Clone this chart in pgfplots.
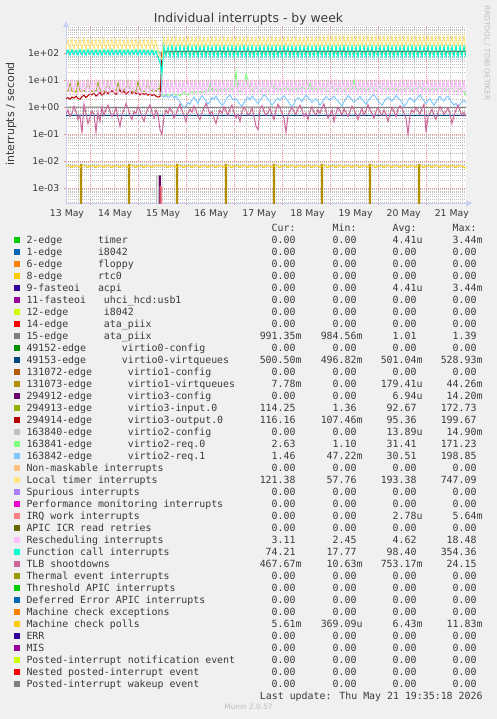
\documentclass[border=0pt]{standalone}
\usepackage{pgfplots}
\pgfplotsset{compat=1.18}
\usepackage{pgfplotstable}
\usetikzlibrary{arrows.meta}
\usepackage{fontspec}
\setmainfont{DejaVu Sans}
\newfontfamily\monofont{DejaVu Sans Mono}
\definecolor{bgc}{HTML}{F0F0F0}
\definecolor{txt}{HTML}{3A3A3A}
\definecolor{axc}{RGB}{200,208,245}
\definecolor{mgrid}{RGB}{238,140,140}
\definecolor{ngrid}{RGB}{190,190,190}
\definecolor{c1}{HTML}{00CC00}\definecolor{c2}{HTML}{0066B3}\definecolor{c3}{HTML}{FF8000}
\definecolor{c4}{HTML}{FFCC00}\definecolor{c5}{HTML}{330099}\definecolor{c6}{HTML}{990099}
\definecolor{c7}{HTML}{CCFF00}\definecolor{c8}{HTML}{FF0000}\definecolor{c9}{HTML}{808080}
\definecolor{c10}{HTML}{008F00}\definecolor{c11}{HTML}{00487D}\definecolor{c12}{HTML}{B35A00}
\definecolor{c13}{HTML}{B38F00}\definecolor{c14}{HTML}{6B006B}\definecolor{c15}{HTML}{8FB300}
\definecolor{c16}{HTML}{B30000}\definecolor{c17}{HTML}{BEBEBE}\definecolor{c18}{HTML}{80FF80}
\definecolor{c19}{HTML}{80C9FF}\definecolor{c20}{HTML}{FFC080}\definecolor{c21}{HTML}{FFE680}
\definecolor{c22}{HTML}{AA80FF}\definecolor{c23}{HTML}{EE00CC}\definecolor{c24}{HTML}{FF8080}
\definecolor{c25}{HTML}{666600}\definecolor{c26}{HTML}{FFBFFF}\definecolor{c27}{HTML}{00FFCC}
\definecolor{c28}{HTML}{CC6699}\definecolor{c29}{HTML}{999900}
\newcommand\legf{\monofont\fontsize{9.9}{12}\selectfont}
\newcommand\pz{\hphantom{0}}
\newcommand\Z{0.00\pz}
\newcommand\LR[5]{%
 \fill[#2] (14.2,{719-240-12*#1-2.7}) rectangle (19.5,{719-240-12*#1+2.7});
 \node[anchor=base west,inner sep=0pt,font=\legf,text=txt] at (26.3,{719-243.4-12*#1}) {#3};
 \node[anchor=base west,inner sep=0pt,font=\legf,text=txt] at ({26.3+5.96*#4},{719-243.4-12*#1}) {#5};}
\newcommand\LV[5]{%
 \node[anchor=base east,inner sep=0pt,font=\legf,text=txt] at (301.7,{719-243.4-12*#1}) {#2};
 \node[anchor=base east,inner sep=0pt,font=\legf,text=txt] at (362.7,{719-243.4-12*#1}) {#3};
 \node[anchor=base east,inner sep=0pt,font=\legf,text=txt] at (422.7,{719-243.4-12*#1}) {#4};
 \node[anchor=base east,inner sep=0pt,font=\legf,text=txt] at (482.7,{719-243.4-12*#1}) {#5};}
\begin{document}
\pgfplotstableread{
x lt fc rs tlb v3i v3o v2r0 v2r1 mcp
0 145 88 3.4 0.55 3.8 2.1 120 110 0.0068
2 320 130 9.2 0.8 4.2 2.3 125 112 0.0067
4 138 86 3.3 0.45 7.5 2.0 118 108 0.0068
6 350 135 9.8 0.6 3.9 2.4 130 115 0.0060
8 142 90 3.5 1.1 4.1 2.2 122 111 0.0068
10 310 128 8.9 0.7 3.6 2.6 127 109 0.0067
12 150 84 3.2 0.35 8.8 2.1 119 113 0.0068
14 335 138 9.5 0.5 4.0 2.0 124 110 0.0058
16 140 87 3.4 0.11 3.7 2.5 128 114 0.0068
18 360 132 9.1 1.3 4.3 2.8 121 108 0.0068
20 135 85 3.6 0.6 3.8 2.3 126 112 0.0067
22 325 140 9.6 0.25 9.5 2.7 123 111 0.0060
24 146 89 3.3 0.4 4.4 3.1 120 109 0.0068
26 315 129 9.0 0.75 3.9 2.9 129 115 0.0068
28 139 86 3.5 0.55 4.2 3.4 125 110 0.0067
30 345 134 9.7 0.12 4.0 2.6 122 113 0.0058
32 144 88 3.2 0.65 8.2 3.0 127 108 0.0068
34 330 131 9.3 0.3 4.5 3.6 124 112 0.0068
36 141 83 3.4 1.0 3.8 2.8 118 111 0.0067
38 355 137 9.9 0.5 4.1 3.3 126 114 0.0060
40 148 90 3.6 0.85 4.3 3.9 121 109 0.0068
42 312 133 9.2 1.2 9.0 3.2 128 110 0.0068
44 137 85 3.3 0.7 4.0 3.7 123 113 0.0067
46 340 139 9.5 0.45 3.7 4.1 125 112 0.0058
48 143 87 3.5 0.6 4.4 3.5 120 108 0.0068
50 328 130 9.0 0.95 4.2 3.0 127 111 0.0068
52 146 88 3.2 0.4 7.8 3.8 124 115 0.0067
54 352 136 9.6 0.2 4.0 4.3 122 110 0.0060
56 139 84 3.4 0.55 3.9 3.4 126 112 0.0068
58 318 132 9.4 0.8 4.5 3.9 121 109 0.0068
60 144 89 3.6 1.4 4.1 3.1 128 113 0.0067
62 338 135 9.1 0.9 9.3 3.6 125 111 0.0058
64 141 86 3.3 0.5 4.3 4.0 119 108 0.0068
66 322 131 9.8 0.35 3.8 3.3 127 114 0.0068
68 147 90 3.5 0.7 4.2 3.7 123 110 0.0067
70 348 138 9.3 0.6 4.0 3.2 126 112 0.0060
72 140 85 3.4 1.05 8.5 3.5 121 109 0.0068
74 316 133 9.5 0.75 4.4 2.9 128 113 0.0068
76 145 87 3.2 0.45 4.1 3.4 124 111 0.0067
78 342 136 9.7 0.3 3.9 3.0 122 110 0.0058
80 138 88 3.6 0.6 4.2 3.3 127 114 0.0068
82 326 130 9.2 0.9 9.1 2.8 125 108 0.0068
84 143 84 3.3 1.25 4.0 3.1 120 112 0.0067
86 336 134 9.4 0.65 4.3 2.7 126 110 0.0060
88 142 86 3.5 0.4 4.5 3.0 123 113 0.0068
90 300 120 9.0 0.8 3.9 2.6 124 111 0.0068
92 110 70 4.0 0.55 4.6 2.4 118 109 0.0067
94 75 45 3.3 0.15 5.0 2.5 115 108 0.0068
96 58 19 3.3 0.1 105 110 3.0 2.6 0.0068
98 380 185 9.4 0.45 112 118 2.8 2.4 0.0068
100 178 78 3.2 0.8 108 112 2.6 2.8 0.0067
102 395 175 9.6 0.6 118 121 3.1 2.3 0.0058
104 172 74 3.4 1.0 110 115 2.7 2.5 0.0068
106 405 190 9.2 0.7 115 119 2.9 2.9 0.0068
108 180 76 3.3 0.4 106 111 3.3 2.2 0.0067
110 388 178 9.7 0.55 120 124 2.8 2.6 0.0060
112 175 73 3.2 0.9 109 113 3.0 2.0 0.0068
114 400 186 9.5 1.3 116 120 2.6 1.6 0.0068
116 183 77 3.5 0.75 111 114 3.2 1.2 0.0067
118 392 180 9.3 0.5 119 122 3.5 1.0 0.0058
120 176 75 3.3 0.3 107 112 3.1 1.1 0.0068
122 410 188 9.8 0.6 117 121 2.9 1.5 0.0068
124 179 72 3.2 0.85 112 116 3.4 1.3 0.0067
126 385 176 9.4 0.65 121 125 3.8 1.9 0.0060
128 174 78 3.4 1.1 108 113 3.3 2.4 0.0068
130 398 184 9.6 0.8 115 119 3.6 1.8 0.0068
132 181 74 3.3 0.45 110 115 4.1 1.4 0.0067
134 402 179 9.1 0.35 118 122 3.7 2.1 0.0058
136 177 76 3.5 0.6 113 117 3.4 2.7 0.0068
138 390 187 9.7 0.95 120 123 3.9 2.2 0.0068
140 173 73 3.2 1.4 106 111 4.4 1.7 0.0067
142 408 182 9.5 0.9 116 120 4.0 1.3 0.0060
144 182 77 3.4 0.55 111 115 7.0 1.6 0.0068
146 387 177 9.3 0.7 119 123 4.2 2.3 0.0068
148 176 75 3.3 0.4 109 114 4.8 2.0 0.0067
150 401 189 9.8 0.25 117 121 4.3 2.6 0.0058
152 180 72 3.2 0.5 112 116 3.9 1.9 0.0068
154 394 181 9.4 0.8 121 124 4.5 1.5 0.0068
156 175 76 3.5 0.6 107 112 4.1 1.2 0.0067
158 406 185 9.6 1.05 115 119 4.6 1.4 0.0060
160 178 74 3.3 0.75 110 114 4.1 1.9 0.0068
162 389 178 9.2 0.5 118 122 4.7 2.5 0.0068
164 183 78 3.4 0.9 113 117 5.2 2.8 0.0067
166 399 186 9.7 1.2 120 124 4.4 2.2 0.0058
168 174 73 3.2 0.65 108 113 4.6 1.8 0.0068
170 404 183 9.5 0.4 116 120 21 2.1 0.0068
172 179 77 3.3 0.55 111 115 4.3 1.6 0.0067
174 391 179 9.3 0.3 119 123 3.9 1.3 0.0060
176 177 75 3.5 0.7 106 111 4.5 1.1 0.0068
178 403 188 9.8 1.0 117 121 5.0 1.5 0.0068
180 181 72 3.2 0.8 112 116 17 2.0 0.0067
182 386 180 9.4 0.5 121 125 10 2.4 0.0058
184 176 76 3.4 0.6 109 114 4.6 1.9 0.0068
186 400 184 9.6 0.95 115 119 4.2 2.6 0.0068
188 180 74 3.3 0.45 110 115 4.8 2.2 0.0067
190 393 177 9.1 0.2 118 122 5.3 1.7 0.0060
192 175 78 3.5 0.15 113 117 4.7 1.4 0.0068
194 407 187 9.7 0.85 120 123 4.1 1.8 0.0068
196 182 73 3.2 1.15 107 112 4.6 2.3 0.0067
198 388 181 9.5 0.7 116 120 5.1 2.9 0.0058
200 177 77 3.3 0.5 111 115 4.5 2.5 0.0068
202 397 185 9.3 0.65 119 123 4.0 2.0 0.0068
204 179 75 3.4 0.9 108 113 4.4 1.6 0.0067
206 405 179 9.8 0.55 117 121 8.0 1.2 0.0060
208 174 72 3.2 0.35 112 116 5.5 1.5 0.0068
210 390 186 9.4 0.8 121 124 4.8 1.9 0.0068
212 181 76 3.5 1.3 106 111 4.3 2.2 0.0067
214 402 182 9.6 0.95 115 119 4.7 1.8 0.0058
216 176 74 3.3 0.6 110 115 4.2 2.4 0.0068
218 395 188 9.2 0.4 118 122 4.9 2.7 0.0068
220 178 78 3.4 0.12 113 117 5.4 2.1 0.0067
222 409 180 9.7 0.5 120 124 4.6 1.7 0.0060
224 175 73 3.2 0.75 109 114 4.1 1.3 0.0068
226 387 184 9.5 1.0 116 120 4.5 1.0 0.0068
228 183 77 3.3 0.7 111 116 5.2 1.4 0.0067
230 399 178 9.3 0.55 119 123 4.8 1.9 0.0058
232 177 75 3.5 0.9 107 112 4.3 2.3 0.0068
234 404 187 9.8 1.2 117 121 4.9 2.0 0.0068
236 180 72 3.2 0.8 112 116 5.6 1.6 0.0067
238 392 181 9.4 0.45 121 125 5.0 2.2 0.0060
240 176 76 3.4 0.6 108 113 4.4 2.8 0.0068
242 401 185 9.6 0.35 115 119 4.8 2.4 0.0068
244 179 74 3.3 0.7 110 115 7.5 1.9 0.0067
246 389 179 9.1 1.05 118 122 4.6 1.5 0.0058
248 174 78 3.5 0.65 113 117 5.3 1.8 0.0068
250 406 186 9.7 0.5 120 123 4.7 2.1 0.0068
252 182 73 3.2 0.85 106 111 4.3 1.6 0.0067
254 440 183 9.5 0.6 116 120 4.9 1.2 0.0060
256 177 77 3.3 0.95 111 115 4.5 1.5 0.0068
258 455 180 9.3 1.35 119 123 5.1 2.0 0.0068
260 181 75 3.4 0.7 108 113 4.6 2.5 0.0067
262 448 188 9.8 0.4 117 121 4.0 2.2 0.0058
264 175 72 3.2 0.55 112 116 4.4 1.8 0.0068
266 462 182 9.4 0.8 121 124 5.5 2.3 0.0068
268 180 76 3.5 0.3 107 112 4.8 2.6 0.0067
270 445 186 9.6 0.6 115 119 4.2 2.0 0.0060
272 178 74 3.3 1.0 110 115 4.7 1.7 0.0068
274 458 179 9.2 0.75 118 122 5.2 1.4 0.0068
276 183 78 3.4 0.5 113 117 4.6 1.1 0.0067
278 450 187 9.7 0.9 120 124 4.1 1.6 0.0058
280 176 73 3.2 0.65 109 114 4.5 2.1 0.0068
282 465 181 9.5 0.45 116 120 5.0 2.7 0.0068
284 179 77 3.3 0.7 111 116 4.4 2.3 0.0067
286 443 185 9.3 1.1 119 123 4.9 1.9 0.0060
288 174 75 3.5 0.85 107 112 10 1.5 0.0068
290 452 180 9.8 0.55 117 121 4.7 1.8 0.0068
292 182 72 3.2 0.35 112 116 4.2 2.2 0.0067
294 460 188 9.4 0.6 121 125 4.6 2.5 0.0058
296 177 76 3.4 0.9 108 113 5.1 2.0 0.0068
298 447 183 9.6 0.5 115 119 4.5 1.6 0.0068
300 181 74 3.3 0.75 110 115 4.0 1.3 0.0067
302 463 179 9.1 1.25 118 122 4.4 1.7 0.0060
304 175 78 3.5 0.8 113 117 4.9 2.2 0.0068
306 449 186 9.7 0.6 120 123 5.3 2.6 0.0068
308 180 73 3.2 0.4 106 111 4.6 2.9 0.0067
310 457 182 9.5 0.7 116 120 4.1 2.3 0.0058
312 178 77 3.3 0.95 111 115 4.5 1.8 0.0068
314 444 185 9.3 0.65 119 123 6.5 1.4 0.0068
316 183 75 3.4 0.5 108 113 4.4 1.2 0.0067
318 461 180 9.8 0.8 117 121 4.8 1.6 0.0060
320 176 72 3.2 0.55 112 116 5.2 2.0 0.0068
322 451 187 9.4 0.3 121 124 4.6 2.4 0.0068
324 179 76 3.5 0.6 107 112 4.3 2.1 0.0067
326 446 181 9.6 1.0 115 119 4.7 1.7 0.0058
328 174 74 3.3 0.7 110 115 5.1 2.2 0.0068
330 459 184 9.2 0.45 118 122 4.5 2.7 0.0068
332 182 78 3.4 0.85 113 117 4.0 2.3 0.0067
334 454 179 9.7 1.15 120 123 4.4 1.9 0.0060
336 177 73 3.2 0.9 109 114 4.8 1.5 0.0068
338 464 186 9.5 0.6 116 120 4.3 1.1 0.0068
340 181 77 3.3 0.4 111 116 4.9 1.3 0.0067
342 442 182 9.3 0.1 119 123 5.3 1.8 0.0058
344 175 75 3.5 0.5 107 112 4.7 2.3 0.0068
346 456 188 9.8 0.8 117 121 4.2 2.0 0.0068
348 180 72 3.2 0.65 112 116 4.6 1.6 0.0067
350 448 180 9.4 1.0 121 125 5.0 1.9 0.0060
352 178 76 3.4 0.75 108 113 4.4 2.4 0.0068
354 462 185 9.6 0.55 115 119 7.0 2.8 0.0068
356 183 74 3.3 0.9 110 115 4.2 2.2 0.0067
358 445 179 9.1 1.3 118 122 4.7 1.7 0.0058
360 176 78 3.5 0.12 113 117 5.1 1.4 0.0068
362 458 187 9.7 0.45 120 123 4.5 1.8 0.0068
364 179 73 3.2 0.6 106 111 4.1 2.1 0.0067
366 450 183 9.5 0.85 116 120 4.6 1.5 0.0060
368 174 77 3.3 0.5 111 115 5.0 1.2 0.0068
370 466 180 9.3 0.35 119 123 4.4 1.6 0.0068
372 182 75 3.4 0.65 108 113 4.8 2.1 0.0067
374 447 188 9.8 1.05 117 121 5.2 2.5 0.0058
376 177 72 3.2 0.8 112 116 4.6 2.0 0.0068
378 455 182 9.4 0.55 121 124 4.2 1.7 0.0068
380 181 76 3.5 0.7 107 112 4.7 2.3 0.0067
382 460 186 9.6 0.95 115 119 4.3 2.6 0.0060
384 175 74 3.3 0.6 110 115 4.8 1.9 0.0068
386 443 179 9.2 0.25 118 122 5.1 1.5 0.0068
388 180 78 3.4 0.5 113 117 4.5 1.2 0.0067
390 457 187 9.7 0.8 120 123 4.0 1.4 0.0058
392 178 73 3.2 1.2 109 114 4.4 1.0 0.0068
394 463 183 9.5 0.75 116 120 4.7 1.3 0.0068
396 183 77 3.3 0.5 111 116 4.3 1.6 0.0067
398 449 180 9.3 0.65 119 123 3.8 1.8 0.0060
400 121 74 3.1 0.47 114 116 2.6 1.5 0.0056
}\data
\begin{tikzpicture}[x=1pt,y=1pt]
\fill[bgc] (0,0) rectangle (497,719);
\begin{axis}[
  at={(66pt,515.7pt)}, anchor=south west,
  width=400pt, height=177pt, scale only axis,
  xmin=0, xmax=400, ymode=log, ymin=2.8e-4, ymax=1000,
  axis background/.style={fill=white},
  axis lines=left,
  axis line style={draw=axc, line width=1pt},
  x axis line style={-{Triangle[length=6pt,width=6pt]}, shorten >=-6pt},
  y axis line style={-{Triangle[length=6pt,width=6pt]}, shorten >=-5pt},
  xtick={24.7,72.7,120.7,168.7,216.7,264.7,312.7,360.7},
  xticklabels={},
  minor xtick={0.7,12.7,36.7,48.7,60.7,84.7,96.7,108.7,132.7,144.7,156.7,180.7,192.7,204.7,228.7,240.7,252.7,276.7,288.7,300.7,324.7,336.7,348.7,372.7,384.7,396.7},
  extra x ticks={1,49.1,97.2,145.3,193.4,241.5,289.6,337.7,385.8},
  extra x tick labels={13 May,14 May,15 May,16 May,17 May,18 May,19 May,20 May,21 May},
  extra x tick style={grid=none, major tick length=0pt},
  ytick={1e-3,1e-2,1e-1,1,10,100},
  yticklabels={1e-03,1e-02,1e-01,1e+00,1e+01,1e+02},
  minor ytick={3e-4,4e-4,5e-4,6e-4,7e-4,8e-4,9e-4,2e-3,3e-3,4e-3,5e-3,6e-3,7e-3,8e-3,9e-3,0.02,0.03,0.04,0.05,0.06,0.07,0.08,0.09,0.2,0.3,0.4,0.5,0.6,0.7,0.8,0.9,2,3,4,5,6,7,8,9,20,30,40,50,60,70,80,90,200,300,400,500,600,700,800,900},
  grid=both,
  major grid style={draw=mgrid, line width=0.6pt, dash pattern=on 1pt off 1pt},
  minor grid style={draw=ngrid, line width=0.6pt, dash pattern=on 1pt off 1pt},
  tick align=outside,
  major tick length=2pt, minor tick length=0pt,
  major tick style={draw=mgrid, line width=0.8pt},
  tick label style={font=\fontsize{9.3}{10}\selectfont, text=txt},
  yticklabel style={inner sep=0pt, anchor=east},
  xticklabel style={inner sep=0pt, anchor=north},
  yticklabel shift=4.5pt,
  xticklabel shift=6pt,
  clip=true,
  every axis plot/.append style={line width=1pt, mark=none},
]
\addplot[c9] coordinates {(0,1.01)(100,1.00)(200,1.01)(300,1.00)(400,0.99)};
\addplot[c11] coordinates {(0,0.501)(100,0.50)(200,0.501)(300,0.502)(400,0.5005)};
\addplot[c13] coordinates {(14,1e-6)(14.5,0.0078)(15.5,0.0078)(16,1e-6)(62,1e-6)(62.5,0.0078)(63.5,0.0078)(64,1e-6)(110,1e-6)(110.5,0.0078)(111.5,0.0078)(112,1e-6)(159,1e-6)(159.5,0.0078)(160.5,0.0078)(161,1e-6)(207,1e-6)(207.5,0.0078)(208.5,0.0078)(209,1e-6)(255,1e-6)(255.5,0.0078)(256.5,0.0078)(257,1e-6)(303,1e-6)(303.5,0.0078)(304.5,0.0078)(305,1e-6)(352,1e-6)(352.5,0.0078)(353.5,0.0078)(354,1e-6)};
\addplot[c14] coordinates {(93.4,1e-6)(93.7,0.0029)(94.3,0.0029)(94.6,1e-6)};
\addplot[c15] table[x=x,y=v3i]{\data};
\addplot[c16] table[x=x,y=v3o]{\data};
\addplot[c17] coordinates {(90.4,1e-6)(90.7,0.0029)(92.3,0.0029)(92.6,1e-6)};
\addplot[c18] table[x=x,y=v2r0]{\data};
\addplot[c19] table[x=x,y=v2r1]{\data};
\addplot[c21] table[x=x,y=lt]{\data};
\addplot[c24] coordinates {(93.9,1e-6)(94.2,0.00115)(95.6,0.00115)(95.9,1e-6)};
\addplot[c26] table[x=x,y=rs]{\data};
\addplot[c27] table[x=x,y=fc]{\data};
\addplot[c28] table[x=x,y=tlb]{\data};
\addplot[c4] table[x=x,y=mcp]{\data};
\end{axis}
\node[font=\fontsize{12.4}{14}\selectfont, text=txt] at (248.5,699.5) {Individual interrupts - by week};
\node[font=\fontsize{11}{13}\selectfont, text=txt, rotate=90] at (11,605) {interrupts / second};
\node[font=\fontsize{7.4}{9}\selectfont, text=black!25, rotate=-90] at (487,666) {RRDTOOL / TOBI OETIKER};
\node[font=\fontsize{7.4}{9}\selectfont, text=black!25] at (248.5,12) {Munin 2.0.57};
\node[anchor=base east,inner sep=0pt,font=\legf,text=txt] at (295.7,{719-231.4}) {Cur:};
\node[anchor=base east,inner sep=0pt,font=\legf,text=txt] at (356.7,{719-231.4}) {Min:};
\node[anchor=base east,inner sep=0pt,font=\legf,text=txt] at (416.7,{719-231.4}) {Avg:};
\node[anchor=base east,inner sep=0pt,font=\legf,text=txt] at (476.7,{719-231.4}) {Max:};
\LR{0}{c1}{2-edge}{12}{timer}\LV{0}{\Z}{\Z}{4.41u}{3.44m}
\LR{1}{c2}{1-edge}{12}{i8042}\LV{1}{\Z}{\Z}{\Z}{\Z}
\LR{2}{c3}{6-edge}{12}{floppy}\LV{2}{\Z}{\Z}{\Z}{\Z}
\LR{3}{c4}{8-edge}{12}{rtc0}\LV{3}{\Z}{\Z}{\Z}{\Z}
\LR{4}{c5}{9-fasteoi}{12}{acpi}\LV{4}{\Z}{\Z}{4.41u}{3.44m}
\LR{5}{c6}{11-fasteoi}{13}{uhci\_hcd:usb1}\LV{5}{\Z}{\Z}{\Z}{\Z}
\LR{6}{c7}{12-edge}{13}{i8042}\LV{6}{\Z}{\Z}{\Z}{\Z}
\LR{7}{c8}{14-edge}{13}{ata\_piix}\LV{7}{\Z}{\Z}{\Z}{\Z}
\LR{8}{c9}{15-edge}{13}{ata\_piix}\LV{8}{991.35m}{984.56m}{1.01\pz}{1.39\pz}
\LR{9}{c10}{49152-edge}{16}{virtio0-config}\LV{9}{\Z}{\Z}{\Z}{\Z}
\LR{10}{c11}{49153-edge}{16}{virtio0-virtqueues}\LV{10}{500.50m}{496.82m}{501.04m}{528.93m}
\LR{11}{c12}{131072-edge}{17}{virtio1-config}\LV{11}{\Z}{\Z}{\Z}{\Z}
\LR{12}{c13}{131073-edge}{17}{virtio1-virtqueues}\LV{12}{7.78m}{\Z}{179.41u}{44.26m}
\LR{13}{c14}{294912-edge}{17}{virtio3-config}\LV{13}{\Z}{\Z}{6.94u}{14.20m}
\LR{14}{c15}{294913-edge}{17}{virtio3-input.0}\LV{14}{114.25\pz}{1.36\pz}{92.67\pz}{172.73\pz}
\LR{15}{c16}{294914-edge}{17}{virtio3-output.0}\LV{15}{116.16\pz}{107.46m}{95.36\pz}{199.67\pz}
\LR{16}{c17}{163840-edge}{17}{virtio2-config}\LV{16}{\Z}{\Z}{13.89u}{14.90m}
\LR{17}{c18}{163841-edge}{17}{virtio2-req.0}\LV{17}{2.63\pz}{1.10\pz}{31.41\pz}{171.23\pz}
\LR{18}{c19}{163842-edge}{17}{virtio2-req.1}\LV{18}{1.46\pz}{47.22m}{30.51\pz}{198.85\pz}
\LR{19}{c20}{Non-maskable interrupts}{0}{}\LV{19}{\Z}{\Z}{\Z}{\Z}
\LR{20}{c21}{Local timer interrupts}{0}{}\LV{20}{121.38\pz}{57.76\pz}{193.38\pz}{747.09\pz}
\LR{21}{c22}{Spurious interrupts}{0}{}\LV{21}{\Z}{\Z}{\Z}{\Z}
\LR{22}{c23}{Performance monitoring interrupts}{0}{}\LV{22}{\Z}{\Z}{\Z}{\Z}
\LR{23}{c24}{IRQ work interrupts}{0}{}\LV{23}{\Z}{\Z}{2.78u}{5.64m}
\LR{24}{c25}{APIC ICR read retries}{0}{}\LV{24}{\Z}{\Z}{\Z}{\Z}
\LR{25}{c26}{Rescheduling interrupts}{0}{}\LV{25}{3.11\pz}{2.45\pz}{4.62\pz}{18.48\pz}
\LR{26}{c27}{Function call interrupts}{0}{}\LV{26}{74.21\pz}{17.77\pz}{98.40\pz}{354.36\pz}
\LR{27}{c28}{TLB shootdowns}{0}{}\LV{27}{467.67m}{10.63m}{753.17m}{24.15\pz}
\LR{28}{c29}{Thermal event interrupts}{0}{}\LV{28}{\Z}{\Z}{\Z}{\Z}
\LR{29}{c1}{Threshold APIC interrupts}{0}{}\LV{29}{\Z}{\Z}{\Z}{\Z}
\LR{30}{c2}{Deferred Error APIC interrupts}{0}{}\LV{30}{\Z}{\Z}{\Z}{\Z}
\LR{31}{c3}{Machine check exceptions}{0}{}\LV{31}{\Z}{\Z}{\Z}{\Z}
\LR{32}{c4}{Machine check polls}{0}{}\LV{32}{5.61m}{369.09u}{6.43m}{11.83m}
\LR{33}{c5}{ERR}{0}{}\LV{33}{\Z}{\Z}{\Z}{\Z}
\LR{34}{c6}{MIS}{0}{}\LV{34}{\Z}{\Z}{\Z}{\Z}
\LR{35}{c7}{Posted-interrupt notification event}{0}{}\LV{35}{\Z}{\Z}{\Z}{\Z}
\LR{36}{c8}{Nested posted-interrupt event}{0}{}\LV{36}{\Z}{\Z}{\Z}{\Z}
\LR{37}{c9}{Posted-interrupt wakeup event}{0}{}\LV{37}{\Z}{\Z}{\Z}{\Z}
\node[anchor=base east,inner sep=0pt,font=\legf,text=txt] at (482.7,{719-699.4}) {Last update: Thu May 21 19:35:18 2026};
\pgfresetboundingbox
\useasboundingbox (0,0) rectangle (497,719);
\end{tikzpicture}
\end{document}
